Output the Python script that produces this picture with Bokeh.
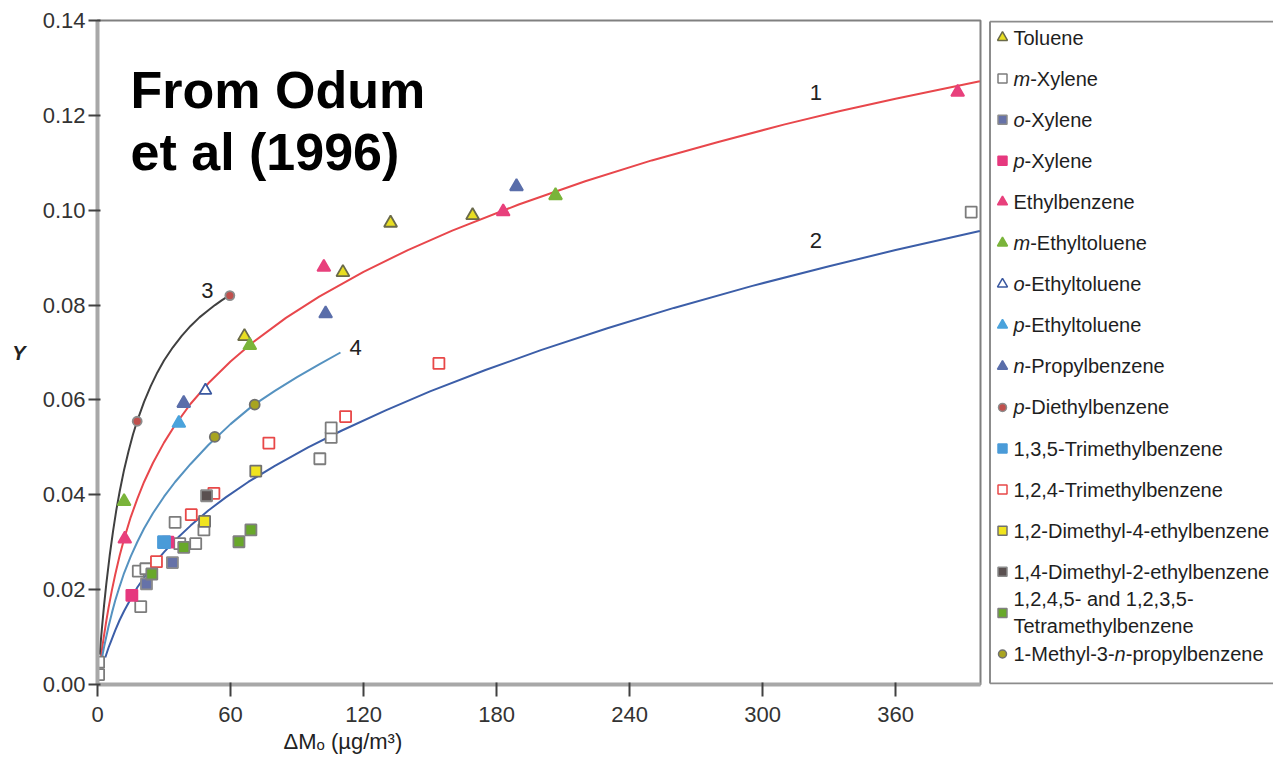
from bokeh.plotting import figure
from bokeh.layouts import row
from bokeh.models import Range1d, FixedTicker, PrintfTickFormatter, Label, Title
from bokeh.embed import file_html
from bokeh.resources import INLINE
from bokeh.core.properties import value

# ---------------- data ----------------
x_ticks = [0, 60, 120, 180, 240, 300, 360]
y_ticks = [0.00, 0.02, 0.04, 0.06, 0.08, 0.10, 0.12, 0.14]

toluene_x = [66.3, 110.7, 132.2, 169.2]
toluene_y = [0.0734, 0.0869, 0.0973, 0.0989]
m_xylene_x = [0.5, 0.5, 19.5, 18.4, 21.8, 35.0, 37.1, 44.3, 48.0, 100.3, 105.4, 105.4, 394.1]
m_xylene_y = [0.0047, 0.0021, 0.0164, 0.0239, 0.0244, 0.0342, 0.0297, 0.0297, 0.0326, 0.0476, 0.0521, 0.0541, 0.0996]
o_xylene_x = [22.1, 33.8]
o_xylene_y = [0.0212, 0.0257]
p_xylene_x = [15.5, 31.8]
p_xylene_y = [0.0188, 0.0300]
ethylbenzene_x = [12.3, 102.1, 183.0, 388.0]
ethylbenzene_y = [0.0307, 0.0880, 0.0997, 0.1249]
m_ethyltoluene_x = [12.0, 68.7, 206.6]
m_ethyltoluene_y = [0.0386, 0.0715, 0.1031]
o_ethyltoluene_x = [48.7]
o_ethyltoluene_y = [0.0620]
p_ethyltoluene_x = [36.7]
p_ethyltoluene_y = [0.0551]
n_propylbenzene_x = [38.9, 102.9, 189.0]
n_propylbenzene_y = [0.0593, 0.0782, 0.1050]
p_diethylbenzene_x = [17.9, 59.7]
p_diethylbenzene_y = [0.0555, 0.0820]
tmb135_x = [30.0]
tmb135_y = [0.0300]
tmb124_x = [26.6, 42.3, 52.5, 77.3, 111.9, 154.0]
tmb124_y = [0.0259, 0.0358, 0.0403, 0.0509, 0.0565, 0.0677]
dm4eb_x = [48.3, 71.4]
dm4eb_y = [0.0344, 0.0450]
dm2eb_x = [49.2]
dm2eb_y = [0.0398]
tetra_x = [24.5, 38.9, 63.8, 69.2]
tetra_y = [0.0233, 0.0289, 0.0301, 0.0326]
mnpb_x = [52.9, 70.9]
mnpb_y = [0.0522, 0.0590]

# fitted curves, points
curve1_x = [1.5, 2.2, 3, 4, 5, 6.5, 8, 10, 12, 15, 18, 21, 25, 30, 35, 42, 50, 60, 70, 85,
            100, 120, 140, 160, 190, 220, 250, 280, 310, 335, 360, 398]
curve1_y = [0.0056, 0.0080, 0.0105, 0.0135, 0.0162, 0.0199, 0.0232, 0.0272, 0.0307, 0.0353,
            0.0392, 0.0427, 0.0467, 0.0510, 0.0547, 0.0592, 0.0635, 0.0681, 0.0721, 0.0773,
            0.0818, 0.0870, 0.0916, 0.0957, 0.1012, 0.1061, 0.1105, 0.1144, 0.1181, 0.1209,
            0.1235, 0.1272]
curve2_x = [3.5, 5, 6, 8, 10, 12, 15, 18, 22, 26, 30, 35, 42, 50, 58, 68, 80, 95, 110, 130,
            150, 175, 200, 230, 260, 295, 330, 360, 398]
curve2_y = [0.0057, 0.0078, 0.0090, 0.0114, 0.0136, 0.0155, 0.0181, 0.0205, 0.0232, 0.0257,
            0.0279, 0.0304, 0.0335, 0.0367, 0.0395, 0.0427, 0.0461, 0.0500, 0.0535, 0.0578,
            0.0618, 0.0663, 0.0705, 0.0751, 0.0794, 0.0840, 0.0882, 0.0916, 0.0956]
curve3_x = [1, 1.5, 2, 3, 4, 5.5, 7, 8.5, 10, 12, 14, 16, 18, 21, 24, 27, 30, 34, 38, 42, 46,
            50, 53, 56, 60]
curve3_y = [0.0063, 0.0092, 0.0119, 0.0169, 0.0213, 0.0272, 0.0323, 0.0368, 0.0407, 0.0453,
            0.0492, 0.0527, 0.0557, 0.0596, 0.0629, 0.0658, 0.0683, 0.0711, 0.0735, 0.0756,
            0.0774, 0.0789, 0.0800, 0.0810, 0.0822]
curve4_x = [2, 3, 5, 6.5, 8, 10, 12, 15, 18, 21, 25, 30, 35, 42, 50, 60, 70, 80, 90, 100, 109.6]
curve4_y = [0.0056, 0.0080, 0.0123, 0.0151, 0.0177, 0.0207, 0.0235, 0.0270, 0.0301, 0.0329,
            0.0361, 0.0396, 0.0427, 0.0465, 0.0505, 0.0549, 0.0588, 0.0619, 0.0648, 0.0675, 0.0700]

curve_names = ["1", "2", "3", "4"]
curve_label_x = [324, 324, 49.6, 116.4]
curve_label_y = [0.1248, 0.0936, 0.0831, 0.0711]

annotation_lines = ["From Odum", "et al (1996)"]
x_title = "ΔMₒ (µg/m³)"
y_title = "Y"

legend_labels = [
    [[("Toluene", "normal")]],
    [[("m", "italic"), ("-Xylene", "normal")]],
    [[("o", "italic"), ("-Xylene", "normal")]],
    [[("p", "italic"), ("-Xylene", "normal")]],
    [[("Ethylbenzene", "normal")]],
    [[("m", "italic"), ("-Ethyltoluene", "normal")]],
    [[("o", "italic"), ("-Ethyltoluene", "normal")]],
    [[("p", "italic"), ("-Ethyltoluene", "normal")]],
    [[("n", "italic"), ("-Propylbenzene", "normal")]],
    [[("p", "italic"), ("-Diethylbenzene", "normal")]],
    [[("1,3,5-Trimethylbenzene", "normal")]],
    [[("1,2,4-Trimethylbenzene", "normal")]],
    [[("1,2-Dimethyl-4-ethylbenzene", "normal")]],
    [[("1,4-Dimethyl-2-ethylbenzene", "normal")]],
    [[("1,2,4,5- and 1,2,3,5-", "normal")], [("Tetramethylbenzene", "normal")]],
    [[("1-Methyl-3-", "normal"), ("n", "italic"), ("-propylbenzene", "normal")]],
]

series_xy = [
    (toluene_x, toluene_y), (m_xylene_x, m_xylene_y), (o_xylene_x, o_xylene_y),
    (p_xylene_x, p_xylene_y), (ethylbenzene_x, ethylbenzene_y),
    (m_ethyltoluene_x, m_ethyltoluene_y), (o_ethyltoluene_x, o_ethyltoluene_y),
    (p_ethyltoluene_x, p_ethyltoluene_y), (n_propylbenzene_x, n_propylbenzene_y),
    (p_diethylbenzene_x, p_diethylbenzene_y), (tmb135_x, tmb135_y), (tmb124_x, tmb124_y),
    (dm4eb_x, dm4eb_y), (dm2eb_x, dm2eb_y), (tetra_x, tetra_y), (mnpb_x, mnpb_y),
]

# ---------------- styles ----------------
# (marker, fill, line, size in plot, size in legend)
series_style = [
    ("triangle", "#e8de22", "#6a6a4a", 13, 10),
    ("square", "white", "#7c7c7c", 11, 9),
    ("square", "#6672a8", "#8c8c8c", 11, 9),
    ("square", "#e6387e", "#e6387e", 11, 9),
    ("triangle", "#e8407c", "#e8407c", 13, 10),
    ("triangle", "#7ab43a", "#7ab43a", 13, 10),
    ("triangle", "white", "#3a58a0", 12, 10),
    ("triangle", "#4aa3dc", "#4aa3dc", 13, 10),
    ("triangle", "#5a6eaa", "#5a6eaa", 13, 10),
    ("circle", "#c0504d", "#8c8c8c", 9, 8),
    ("square", "#4a9bd8", "#4a9bd8", 12, 9),
    ("square", "white", "#e84848", 11, 9),
    ("square", "#f0e41e", "#707070", 11, 9),
    ("square", "#5a5050", "#8a8a8a", 11, 9),
    ("square", "#68a82a", "#808080", 11, 9),
    ("circle", "#a8a420", "#707070", 10, 8),
]
curve_colors = ["#e8474c", "#3c5ea8", "#404040", "#5592c0"]
FONT = "Liberation Sans"

# ---------------- main plot ----------------
p = figure(width=988, height=764, x_range=Range1d(0, 398.3), y_range=Range1d(0, 0.14),
           output_backend="svg", toolbar_location=None, title=None,
           min_border_left=97, min_border_right=8, min_border_top=20, min_border_bottom=80)
p.xgrid.visible = False
p.ygrid.visible = False
p.outline_line_color = "#808080"
p.outline_line_width = 2
p.background_fill_color = "white"
p.border_fill_color = "white"

for ax in (p.xaxis[0], p.yaxis[0]):
    ax.axis_line_color = "#a8a8a8"
    ax.axis_line_width = 4
    ax.major_tick_line_color = "#404040"
    ax.major_tick_line_width = 2
    ax.minor_tick_line_color = None
    ax.major_label_text_font = FONT
    ax.major_label_text_font_size = "22px"
    ax.major_label_text_color = "#333333"

p.xaxis[0].ticker = FixedTicker(ticks=x_ticks)
p.xaxis[0].major_tick_out = 12
p.xaxis[0].major_tick_in = 2
p.xaxis[0].major_label_standoff = 10
p.yaxis[0].ticker = FixedTicker(ticks=y_ticks)
p.yaxis[0].formatter = PrintfTickFormatter(format="%.2f")
p.yaxis[0].major_tick_out = 9
p.yaxis[0].major_tick_in = 3
p.yaxis[0].major_label_standoff = 3

yax = p.yaxis[0]
yax.axis_label = y_title
yax.axis_label_text_font = FONT
yax.axis_label_text_font_size = "20px"
yax.axis_label_text_font_style = "bold italic"
yax.axis_label_text_color = "#222222"
yax.axis_label_standoff = 14
try:
    yax.axis_label_orientation = "horizontal"
except Exception:
    pass

p.add_layout(Title(text=x_title, align="left", offset=186, standoff=5, text_font=FONT,
                   text_font_size="22px", text_font_style="normal", text_color="#222222"),
             "below")

curves = [(curve1_x, curve1_y), (curve2_x, curve2_y), (curve3_x, curve3_y), (curve4_x, curve4_y)]
for (cx, cy), col in zip(curves, curve_colors):
    p.line(cx, cy, line_color=col, line_width=2)

for (sx, sy), (mk, fc, lc, sz, _) in zip(series_xy, series_style):
    p.scatter(sx, sy, marker=mk, size=sz, fill_color=fc, line_color=lc, line_width=1.8)

for name, lx, ly in zip(curve_names, curve_label_x, curve_label_y):
    p.add_layout(Label(x=lx, y=ly, text=name, text_font=FONT, text_font_size="22px",
                       text_color="#222222", text_align="center", text_baseline="middle"))

# annotation (two bold lines)
for line_text, ly in zip(annotation_lines, [0.1254, 0.1122]):
    p.add_layout(Label(x=14.9, y=ly, text=line_text, text_font=FONT, text_font_size="52px",
                       text_font_style="bold", text_color="black", text_baseline="alphabetic"))

# ---------------- legend panel ----------------
CHAR_W = {",": 0.278, "-": 0.333, " ": 0.278, "a": 0.556, "b": 0.556, "c": 0.5, "d": 0.556,
          "e": 0.556, "h": 0.556, "i": 0.222, "l": 0.222, "m": 0.833, "n": 0.556, "o": 0.556,
          "p": 0.556, "r": 0.333, "t": 0.278, "u": 0.556, "y": 0.5, "z": 0.5, "D": 0.722,
          "E": 0.667, "M": 0.833, "P": 0.667, "T": 0.611, "X": 0.667}


def text_w(s, size):
    return sum(CHAR_W.get(c, 0.556) for c in s) * size


LW = 285
box_top, box_bottom = 20, 684
lg = figure(width=LW, height=764, x_range=Range1d(0, LW), y_range=Range1d(box_bottom, box_top),
            output_backend="svg", toolbar_location=None, title=None,
            min_border_left=0, min_border_right=0, min_border_top=20, min_border_bottom=80)
lg.axis.visible = False
lg.xgrid.visible = False
lg.ygrid.visible = False
lg.outline_line_color = None
lg.background_fill_color = "white"
lg.border_fill_color = "white"

lg.segment(x0=[1.5, 1.5, 1.5], y0=[box_top + 1, box_top + 1, box_bottom - 1],
           x1=[1.5, LW, LW], y1=[box_bottom - 1, box_top + 1, box_bottom - 1],
           line_color="#8c8c8c", line_width=2)

first_y, step = 37, 41.1
mark_x, text_x, fsize = 14, 25, 20
norm_x, norm_y, norm_t = [], [], []
ital_x, ital_y, ital_t = [], [], []
for i, (lines, (mk, fc, lc, _, lsz)) in enumerate(zip(legend_labels, series_style)):
    yc = first_y + i * step
    lg.scatter([mark_x], [yc], marker=mk, size=lsz, fill_color=fc, line_color=lc, line_width=1.5)
    n = len(lines)
    for j, segs in enumerate(lines):
        ly = yc + (j - (n - 1) / 2) * 27
        xx = text_x
        for s, st in segs:
            if st == "italic":
                ital_x.append(xx); ital_y.append(ly); ital_t.append(s)
            else:
                norm_x.append(xx); norm_y.append(ly); norm_t.append(s)
            xx += text_w(s, fsize)

lg.text(x=norm_x, y=norm_y, text=norm_t, text_font=value(FONT), text_font_size=value("20px"),
        text_color="#1e1e1e", text_baseline="middle", text_align="left")
lg.text(x=ital_x, y=ital_y, text=ital_t, text_font=value(FONT), text_font_size=value("20px"),
        text_font_style="italic", text_color="#1e1e1e", text_baseline="middle", text_align="left")

layout = row(p, lg, spacing=0)
open("out.html", "w").write(file_html(layout, INLINE))
